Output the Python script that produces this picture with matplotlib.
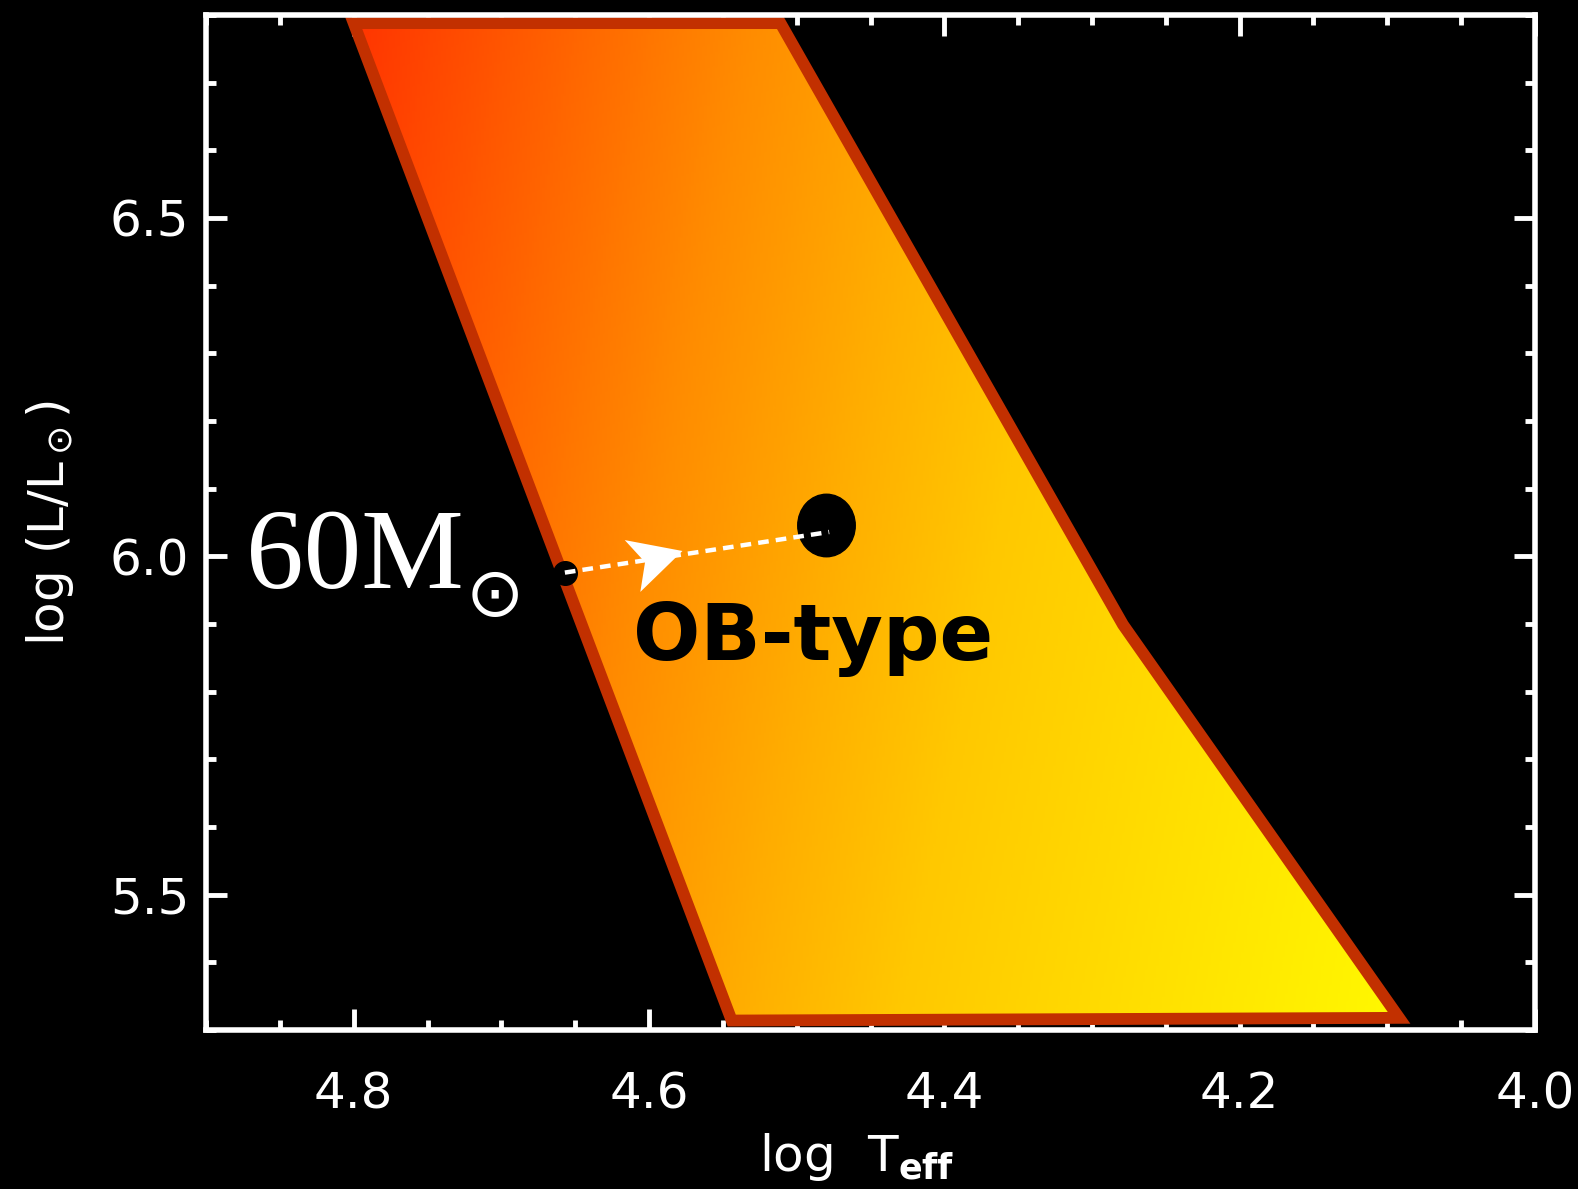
import numpy as np
import matplotlib
matplotlib.use("Agg")
import matplotlib.pyplot as plt
from matplotlib.colors import LinearSegmentedColormap
from matplotlib.patches import Polygon
from matplotlib.markers import MarkerStyle
from matplotlib.path import Path
from matplotlib.transforms import Affine2D
from matplotlib.ticker import MultipleLocator

# OB-type band outline (log Teff, log L/Lsun)
band_teff = [4.800, 4.511, 4.279, 4.092, 4.544]
band_lum = [6.788, 6.788, 5.899, 5.318, 5.314]

# 60 Msun track: start point -> end point, and the final star
track_teff = [4.657, 4.478]
track_lum = [5.976, 6.036]
star_teff = 4.480
star_lum = 6.046
arrow_frac = 0.35

xticks = [4.8, 4.6, 4.4, 4.2, 4.0]
xticklabels = ["4.8", "4.6", "4.4", "4.2", "4.0"]
yticks = [5.5, 6.0, 6.5]
yticklabels = ["5.5", "6.0", "6.5"]

plt.rcParams['font.family'] = ['DejaVu Sans']

fig = plt.figure(figsize=(15.78, 11.89), dpi=100, facecolor='black')
ax = fig.add_axes([0.1306, 0.1337, 0.8421, 0.8537])
ax.set_facecolor('black')

# gradient fill, red-orange top left -> yellow bottom right
cmap = LinearSegmentedColormap.from_list(
    'band', [(0.0, '#FF3500'), (0.32, '#FF8C00'), (0.48, '#FFB000'),
             (0.6, '#FFC800'), (1.0, '#FFF800')])
gx = np.linspace(4.0, 4.9, 500)
gy = np.linspace(5.3, 6.8, 500)
GX, GY = np.meshgrid(gx, gy)
t0, l0 = band_teff[0], band_lum[0]
tn = (t0 - band_teff[3]) + 0.092 * (l0 - band_lum[3])
grad = np.clip(((t0 - GX) + 0.092 * (l0 - GY)) / tn, 0, 1)

poly = Polygon(np.column_stack([band_teff, band_lum]), closed=True,
               facecolor='none', edgecolor='#C23000', lw=8.5,
               joinstyle='miter', zorder=3)
ax.add_patch(poly)
im = ax.imshow(grad, extent=(4.0, 4.9, 5.3, 6.8), origin='lower', cmap=cmap,
               vmin=0, vmax=1, aspect='auto', interpolation='bilinear', zorder=2)
im.set_clip_path(poly)

ax.set_xlim(4.9, 4.0)
ax.set_ylim(5.3, 6.8)

# track
ax.plot(star_teff, star_lum, linestyle='none',
        marker=MarkerStyle('o', transform=Affine2D().scale(0.92, 1.0)),
        color='black', ms=45, zorder=4)
ax.plot(track_teff[0], track_lum[0], 'o', color='black', ms=17, zorder=4)
ax.plot(track_teff, track_lum, color='white', lw=3.2, dashes=(2.4, 1.6), zorder=5)

# arrow head
p0 = ax.transData.transform((track_teff[0], track_lum[0]))
p1 = ax.transData.transform((track_teff[1], track_lum[1]))
ang = np.degrees(np.arctan2(p1[1] - p0[1], p1[0] - p0[0])) + 8
head = Path([(0.963, 0.0), (-0.963, 1.0), (-0.48, 0.0), (-0.963, -1.0), (0.963, 0.0)],
            [Path.MOVETO, Path.LINETO, Path.LINETO, Path.LINETO, Path.CLOSEPOLY])
ax_t = track_teff[0] + arrow_frac * (track_teff[1] - track_teff[0])
ax_l = track_lum[0] + arrow_frac * (track_lum[1] - track_lum[0])
ax.plot(ax_t, ax_l, linestyle='none',
        marker=MarkerStyle(head, transform=Affine2D().rotate_deg(ang)),
        color='white', mec='none', ms=39, zorder=6)

# labels
ax.annotate('60M', xy=(track_teff[0], track_lum[0]), xytext=(-72.7, -10.8),
            textcoords='offset points', ha='right', va='baseline',
            fontsize=83, color='white', family='Liberation Serif', zorder=7)
ax.annotate('\u2299', xy=(track_teff[0], track_lum[0]), xytext=(-50.4, -17.3),
            textcoords='offset points', ha='center', va='center',
            fontsize=50, color='white', family='DejaVu Sans', zorder=7)
ax.annotate('OB-type', xy=(star_teff, star_lum), xytext=(-139, -97.2),
            textcoords='offset points', ha='left', va='baseline',
            fontsize=57, fontweight='bold', color='black', zorder=7)

# axes styling
ax.set_xticks(xticks)
ax.set_xticklabels(xticklabels)
ax.set_yticks(yticks)
ax.set_yticklabels(yticklabels)
ax.xaxis.set_minor_locator(MultipleLocator(0.05))
ax.yaxis.set_minor_locator(MultipleLocator(0.1))
ax.tick_params(which='both', direction='in', top=True, right=True,
               color='white', width=3.5, labelcolor='white')
ax.tick_params(which='major', length=15, labelsize=36)
ax.tick_params(axis='x', which='major', pad=29)
ax.tick_params(axis='y', which='major', pad=12)
ax.tick_params(which='minor', length=7.5)
for sp in ax.spines.values():
    sp.set_color('white')
    sp.set_linewidth(4)
    sp.set_zorder(8)

ax.set_xlabel('log  T$_\\mathbf{eff}$', fontsize=36, color='white')
ax.xaxis.set_label_coords(0.490, -0.099)
ax.set_ylabel('log (L/L$_\\odot$)', fontsize=36, color='white')
ax.yaxis.set_label_coords(-0.098, 0.5)

fig.savefig('out.png', dpi=100, facecolor='black')
